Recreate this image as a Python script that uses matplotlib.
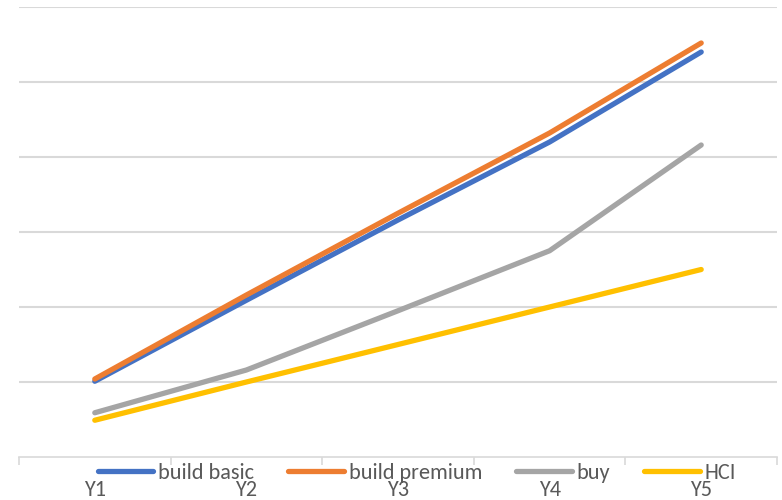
import matplotlib.pyplot as plt

categories = ["Y1", "Y2", "Y3", "Y4", "Y5"]
build_basic = [1.01, 2.09, 3.16, 4.2, 5.4]
build_premium = [1.04, 2.16, 3.25, 4.32, 5.52]
buy = [0.59, 1.16, 1.95, 2.75, 4.16]
hci = [0.49, 1.0, 1.5, 2.0, 2.5]

plt.rcParams["font.family"] = ["Carlito", "DejaVu Sans"]

txt = "#595959"
grid = "#D9D9D9"

fig = plt.figure(figsize=(7.82, 5.0), dpi=100)
ax = fig.add_axes([19 / 782, 43 / 500, 758 / 782, 450 / 500])

x = list(range(len(categories)))
series = [("build basic", build_basic, "#4472C4"),
          ("build premium", build_premium, "#ED7D31"),
          ("buy", buy, "#A5A5A5"),
          ("HCI", hci, "#FFC000")]
for name, vals, col in series:
    ax.plot(x, vals, color=col, lw=3.8, solid_capstyle="round", label=name)

ax.set_xlim(-0.5, 4.5)
ax.set_ylim(0, 6)
ax.set_yticks([1, 2, 3, 4, 5, 6])
ax.yaxis.grid(True, color=grid, lw=1.5)
ax.set_axisbelow(True)
ax.tick_params(axis="y", left=False, labelleft=False)

ax.set_xticks(x)
ax.set_xticklabels(categories, fontsize=16, color=txt)
ax.tick_params(axis="x", which="major", length=0, pad=16.5)
ax.set_xticks([i - 0.5 for i in range(6)], minor=True)
ax.tick_params(axis="x", which="minor", length=6, width=1.2, color=grid)

for s in ["top", "right", "left"]:
    ax.spines[s].set_visible(False)
ax.spines["bottom"].set_color(grid)
ax.spines["bottom"].set_linewidth(1.2)

fig.legend(loc="center", bbox_to_anchor=(0.533, 0.054), ncol=4, frameon=False,
           fontsize=16, labelcolor=txt, handlelength=2.5, handletextpad=0.22,
           columnspacing=1.53, borderpad=0, borderaxespad=0)

fig.savefig("out.png", dpi=100)
